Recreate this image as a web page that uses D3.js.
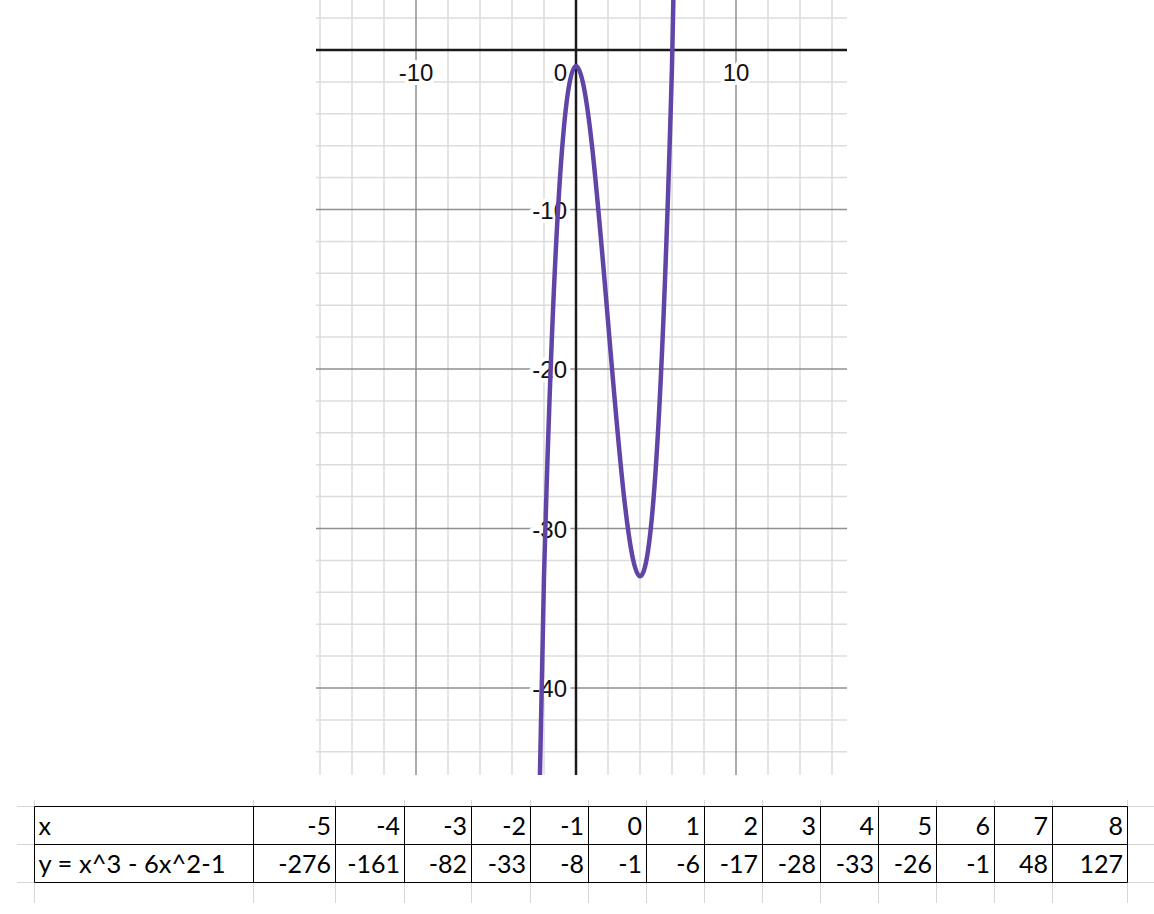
<!DOCTYPE html>
<html>
<head>
<meta charset="utf-8">
<script src="https://cdn.jsdelivr.net/npm/d3@7"></script>
<style>
  html, body { margin: 0; padding: 0; background: #fff; }
  svg { display: block; }
</style>
</head>
<body>
<svg id="chart" width="1154" height="914"></svg>
<script>
// ---- data ----
const xValues = [-5, -4, -3, -2, -1, 0, 1, 2, 3, 4, 5, 6, 7, 8];
const yValues = [-276, -161, -82, -33, -8, -1, -6, -17, -28, -33, -26, -1, 48, 127];
const xLabelRow = "x";
const yLabelRow = "y = x^3 - 6x^2-1";
const xTickLabels = [-10, 0, 10];
const yTickLabels = [-10, -20, -30, -40];

// ---- layout ----
const W = 1154, H = 914;
const plot = { left: 316, right: 847, top: 0, bottom: 775 };
const svg = d3.select("#chart");

const x = d3.scaleLinear().domain([-10, 10]).range([416, 736]);
const y = d3.scaleLinear().domain([0, -40]).range([50, 688]);

const xMin = x.invert(plot.left), xMax = x.invert(plot.right);
const yMax = y.invert(plot.top), yMin = y.invert(plot.bottom);

const g = svg.append("g");

const minorX = d3.range(Math.ceil(xMin / 2) * 2, xMax, 2).filter(v => v % 10 !== 0);
const minorY = d3.range(Math.ceil(yMin / 2) * 2, yMax, 2).filter(v => v % 10 !== 0);
const majorX = d3.range(Math.ceil(xMin / 10) * 10, xMax, 10).filter(v => v !== 0);
const majorY = d3.range(Math.ceil(yMin / 10) * 10, yMax, 10).filter(v => v !== 0);

g.selectAll(".mvx").data(minorX).join("line")
  .attr("x1", d => x(d)).attr("x2", d => x(d))
  .attr("y1", plot.top).attr("y2", plot.bottom)
  .attr("stroke", "#dcdcdc").attr("stroke-width", 1.5);
g.selectAll(".mhy").data(minorY).join("line")
  .attr("x1", plot.left).attr("x2", plot.right)
  .attr("y1", d => y(d)).attr("y2", d => y(d))
  .attr("stroke", "#dcdcdc").attr("stroke-width", 1.5);
g.selectAll(".Mvx").data(majorX).join("line")
  .attr("x1", d => x(d)).attr("x2", d => x(d))
  .attr("y1", plot.top).attr("y2", plot.bottom)
  .attr("stroke", "#8f8f8f").attr("stroke-width", 1.5);
g.selectAll(".Mhy").data(majorY).join("line")
  .attr("x1", plot.left).attr("x2", plot.right)
  .attr("y1", d => y(d)).attr("y2", d => y(d))
  .attr("stroke", "#8f8f8f").attr("stroke-width", 1.5);

// axes
g.append("line").attr("x1", plot.left).attr("x2", plot.right)
  .attr("y1", y(0)).attr("y2", y(0)).attr("stroke", "#1a1a1a").attr("stroke-width", 2.5);
g.append("line").attr("x1", x(0)).attr("x2", x(0))
  .attr("y1", plot.top).attr("y2", plot.bottom).attr("stroke", "#1a1a1a").attr("stroke-width", 2.5);

// tick labels
const labelStyle = sel => sel
  .attr("font-family", "'Liberation Sans', Arial, sans-serif")
  .attr("font-size", 24)
  .attr("fill", "#111")
  .attr("stroke", "#fff").attr("stroke-width", 8)
  .attr("stroke-linejoin", "round")
  .attr("paint-order", "stroke");

g.selectAll(".xl").data(xTickLabels).join("text")
  .call(labelStyle)
  .attr("x", d => d === 0 ? x(0) - 9 : x(d))
  .attr("y", y(0) + 31)
  .attr("text-anchor", d => d === 0 ? "end" : "middle")
  .text(d => d < 0 ? "-" + Math.abs(d) : d);

g.selectAll(".yl").data(yTickLabels).join("text")
  .call(labelStyle)
  .attr("x", x(0) - 9)
  .attr("y", d => y(d) + 9)
  .attr("text-anchor", "end")
  .text(d => d < 0 ? "-" + Math.abs(d) : d);

// curve
svg.append("clipPath").attr("id", "clip").append("rect")
  .attr("x", plot.left).attr("y", plot.top)
  .attr("width", plot.right - plot.left).attr("height", plot.bottom - plot.top);

const pts = xValues.map((v, i) => [v, yValues[i]]);
const line = d3.line().x(d => x(d[0])).y(d => y(d[1])).curve(d3.curveNatural);
g.append("path").attr("clip-path", "url(#clip)")
  .attr("d", line(pts))
  .attr("fill", "none").attr("stroke", "#6145a6").attr("stroke-width", 4.5)
  .attr("stroke-linecap", "round").attr("stroke-linejoin", "round");

// ---- table ----
const colWidths = [219, 82, 69, 67, 58.5, 58, 58, 58, 58, 58, 58, 58, 58, 58, 75];
const tLeft = 34, tTop = 806, rowH = 38;
const colEdges = [tLeft];
colWidths.forEach(w => colEdges.push(colEdges[colEdges.length - 1] + w));
const edges = colEdges.map(e => Math.round(e) + 0.5);
const rowEdges = [0, 1, 2].map(i => Math.round(tTop + i * rowH) + 0.5);
const tRight = edges[edges.length - 1];

const t = svg.append("g");
const faint = "#d6d6d6";
rowEdges.forEach(ry => {
  t.append("line").attr("x1", 17).attr("x2", edges[0]).attr("y1", ry).attr("y2", ry)
    .attr("stroke", faint).attr("stroke-width", 1);
  t.append("line").attr("x1", tRight).attr("x2", W).attr("y1", ry).attr("y2", ry)
    .attr("stroke", faint).attr("stroke-width", 1);
});
edges.forEach(ex => {
  t.append("line").attr("x1", ex).attr("x2", ex).attr("y1", rowEdges[2]).attr("y2", 903)
    .attr("stroke", faint).attr("stroke-width", 1);
  t.append("line").attr("x1", ex).attr("x2", ex).attr("y1", 800).attr("y2", rowEdges[0])
    .attr("stroke", faint).attr("stroke-width", 1);
});

rowEdges.forEach(ry => {
  t.append("line").attr("x1", edges[0]).attr("x2", tRight).attr("y1", ry).attr("y2", ry)
    .attr("stroke", "#000").attr("stroke-width", 1);
});
edges.forEach(ex => {
  t.append("line").attr("x1", ex).attr("x2", ex).attr("y1", rowEdges[0]).attr("y2", rowEdges[2])
    .attr("stroke", "#000").attr("stroke-width", 1);
});

const cellFont = sel => sel
  .attr("font-family", "Lato, 'Open Sans', sans-serif")
  .attr("font-size", 25).attr("fill", "#000");

const rows = [
  { label: xLabelRow, values: xValues, len: null },
  { label: yLabelRow, values: yValues, len: 187 }
];
rows.forEach((r, ri) => {
  const by = tTop + (ri + 1) * rowH - 9;
  const lbl = t.append("text").call(cellFont).attr("x", edges[0] + 4).attr("y", by).text(r.label);
  if (r.len) lbl.attr("textLength", r.len).attr("lengthAdjust", "spacingAndGlyphs");
  t.selectAll(null).data(r.values).join("text").call(cellFont)
    .attr("x", (d, i) => edges[i + 2] - 4.5)
    .attr("y", by)
    .attr("text-anchor", "end")
    .text(d => d < 0 ? "-" + Math.abs(d) : d);
});
</script>
</body>
</html>
